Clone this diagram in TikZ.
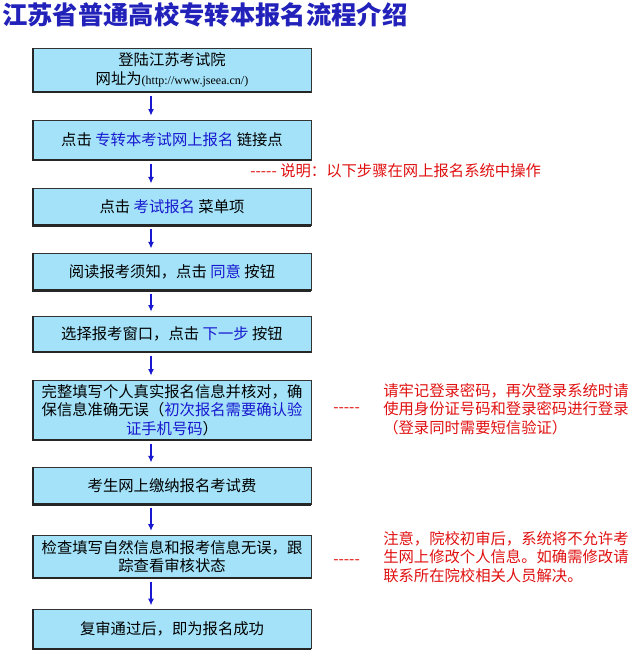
\documentclass[tikz,border=0pt]{standalone}
\usepackage{fontspec}
\setmainfont{Noto Sans CJK SC}
\newfontfamily\urlfont{Liberation Serif}
\usetikzlibrary{arrows.meta,positioning}
\definecolor{boxfill}{HTML}{A3E2F8}
\definecolor{titleblue}{HTML}{2222BB}
\definecolor{linkblue}{HTML}{1818D0}
\definecolor{notered}{HTML}{E01010}
\tikzset{
  stepbox/.style={draw=black!80, fill=boxfill, minimum width=208.5pt, align=center,
    font=\fontsize{11.5}{14}\selectfont, inner sep=1pt},
  arr/.style={-{Latex[length=5pt,width=4.5pt]}, draw=linkblue, line width=1.2pt},
  note/.style={text=notered, align=left, anchor=north west, inner sep=0pt,
    font=\fontsize{11.5}{14}\selectfont},
}
\newcommand{\lk}[1]{\textcolor{linkblue}{#1}}
\newcommand{\dashes}{-{}-{}-{}-{}-}
\begin{document}
\begin{tikzpicture}[x=0.75pt,y=-0.75pt]
\useasboundingbox (0,0) rectangle (641,659);
\node[anchor=north west, inner sep=0pt, text=titleblue, font=\fontsize{19}{22}\bfseries\selectfont] (title) at (2,2) {江苏省普通高校专转本报名流程介绍};

\node[stepbox, minimum height=33pt] (b1) at (172,70) {登陆江苏考试院\\网址为{\urlfont\fontsize{9}{11}\selectfont (http://www.jseea.cn/)}};
\node[stepbox, minimum height=30pt] (b2) at (172,140) {点击 \lk{专转本考试网上报名} 链接点};
\node[stepbox, minimum height=28pt] (b3) at (172,206.5) {点击 \lk{考试报名} 菜单项};
\node[stepbox, minimum height=28pt] (b4) at (172,271.5) {阅读报考须知，点击 \lk{同意} 按钮};
\node[stepbox, minimum height=27pt] (b5) at (172,334) {选择报考窗口，点击 \lk{下一步} 按钮};
\node[stepbox, minimum height=45pt] (b6) at (172,410) {完整填写个人真实报名信息并核对，确\\保信息准确无误（\lk{初次报名需要确认验}\\\lk{证手机号码}）};
\node[stepbox, minimum height=28pt] (b7) at (172,485.5) {考生网上缴纳报名考试费};
\node[stepbox, minimum height=32pt] (b8) at (172,556.5) {检查填写自然信息和报考信息无误，跟\\踪查看审核状态};
\node[stepbox, minimum height=29pt] (b9) at (172,629) {复审通过后，即为报名成功};

% dark edge on left and bottom
\foreach \b in {b1,b2,b3,b4,b5,b6,b7,b8,b9}
  \draw[line width=1.6pt, black!85] (\b.north west) -- (\b.south west) -- (\b.south east);

\foreach \a/\b in {b1/b2,b2/b3,b3/b4,b4/b5,b5/b6,b6/b7,b7/b8,b8/b9}
  \draw[arr] ([xshift=-15.75pt, yshift=-3pt]\a.south) -- ([xshift=-15.75pt, yshift=3pt]\b.north);

\node[note, anchor=west] (n1) at (250,171) {\dashes\ 说明：以下步骤在网上报名系统中操作};

\node[note] (n2) at (383,383) {请牢记登录密码，再次登录系统时请\\使用身份证号码和登录密码进行登录\\（登录同时需要短信验证）};
\node[note, anchor=west] (d2) at (333,410) {\dashes};

\node[note] (n3) at (383,531) {注意，院校初审后，系统将不允许考\\生网上修改个人信息。如确需修改请\\联系所在院校相关人员解决。};
\node[note, anchor=west] (d3) at (333,562) {\dashes};
\end{tikzpicture}
\end{document}
